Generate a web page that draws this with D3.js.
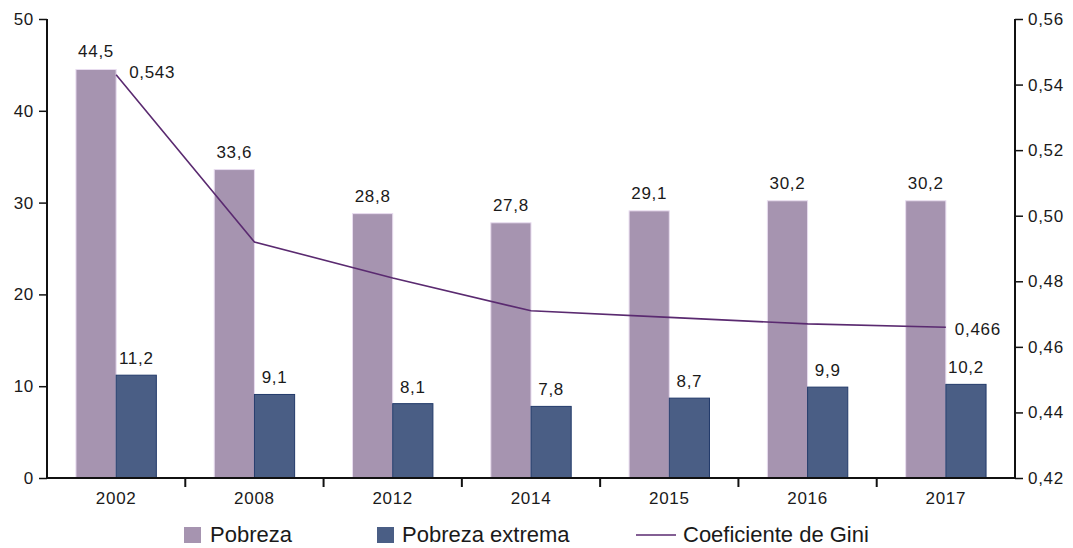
<!DOCTYPE html>
<html>
<head>
<meta charset="utf-8">
<script src="https://cdn.jsdelivr.net/npm/d3@7"></script>
<style>
body { margin: 0; background: #fff; }
text { font-family: "Liberation Sans", Arial, sans-serif; fill: #1a1a1a; }
</style>
</head>
<body>
<svg id="chart" width="1073" height="548"></svg>
<script>
let anios = ["2002", "2008", "2012", "2014", "2015", "2016", "2017"];
let pobreza = [44.5, 33.6, 28.8, 27.8, 29.1, 30.2, 30.2];
let pobreza_ext = [11.2, 9.1, 8.1, 7.8, 8.7, 9.9, 10.2];
let gini = [0.543, 0.492, 0.481, 0.471, 0.469, 0.467, 0.466];
let ticks_izq = [0, 10, 20, 30, 40, 50];
let ticks_der = [0.42, 0.44, 0.46, 0.48, 0.50, 0.52, 0.54, 0.56];

let svg = d3.select("#chart");
let mLeft = 47, mRight = 1015, mTop = 19, mBottom = 478;
let fmt = d => String(d).replace(".", ",");
let numStyle = sel => sel.style("font-size", "17px").style("letter-spacing", "0.7px");

let x = d3.scaleBand().domain(anios).range([mLeft, mRight]).paddingInner(0).paddingOuter(0);
let xSub = d3.scaleBand().domain(["p", "e"]).range([0, x.bandwidth()]).paddingOuter(0.72).paddingInner(0);
let y = d3.scaleLinear().domain([0, 50]).range([mBottom, mTop]);
let y2 = d3.scaleLinear().domain([0.42, 0.56]).range([mBottom, mTop]);

// barras
let grupos = svg.selectAll(".grupo")
    .data(anios)
    .enter().append("g")
    .attr("transform", d => "translate(" + x(d) + ",0)");

grupos.append("rect")
    .attr("x", xSub("p"))
    .attr("width", xSub.bandwidth())
    .attr("y", (d, i) => y(pobreza[i]))
    .attr("height", (d, i) => mBottom - y(pobreza[i]))
    .attr("fill", "#a694b0")
    .attr("stroke", "#e8dcef")
    .attr("stroke-width", 1);

grupos.append("rect")
    .attr("x", xSub("e"))
    .attr("width", xSub.bandwidth())
    .attr("y", (d, i) => y(pobreza_ext[i]))
    .attr("height", (d, i) => mBottom - y(pobreza_ext[i]))
    .attr("fill", "#4a5e85")
    .attr("stroke", "#223a6a")
    .attr("stroke-width", 1);

grupos.append("text")
    .attr("x", xSub("p") + xSub.bandwidth() / 2)
    .attr("y", (d, i) => y(pobreza[i]) - 12)
    .attr("text-anchor", "middle")
    .call(numStyle)
    .text((d, i) => fmt(pobreza[i]));

grupos.append("text")
    .attr("x", xSub("e") + xSub.bandwidth() / 2)
    .attr("y", (d, i) => y(pobreza_ext[i]) - 11)
    .attr("text-anchor", "middle")
    .call(numStyle)
    .text((d, i) => fmt(pobreza_ext[i]));

// linea gini
let line = d3.line()
    .x((d, i) => x(anios[i]) + x.bandwidth() / 2)
    .y(d => y2(d));

svg.append("path")
    .datum(gini)
    .attr("d", line)
    .attr("fill", "none")
    .attr("stroke", "#5a2a70")
    .attr("stroke-width", 1.6);

let last = gini.length - 1;
svg.append("text")
    .attr("x", x(anios[0]) + x.bandwidth() / 2 + 13)
    .attr("y", y2(gini[0]) + 3)
    .call(numStyle)
    .text(fmt(gini[0]));
svg.append("text")
    .attr("x", x(anios[last]) + x.bandwidth() / 2 + 9)
    .attr("y", y2(gini[last]) + 8)
    .call(numStyle)
    .text(fmt(gini[last]));

// ejes
let ejeIzq = svg.append("g")
    .attr("transform", "translate(" + mLeft + ",0)")
    .call(d3.axisLeft(y).tickValues(ticks_izq).tickSize(8).tickPadding(5));
let ejeDer = svg.append("g")
    .attr("transform", "translate(" + mRight + ",0)")
    .call(d3.axisRight(y2).tickValues(ticks_der).tickSize(8).tickPadding(5).tickFormat(d => d3.format(".2f")(d).replace(".", ",")));
let ejeX = svg.append("g")
    .attr("transform", "translate(0," + mBottom + ")")
    .call(d3.axisBottom(x).tickSize(0).tickPadding(14));

// marcas entre categorias
svg.selectAll(".sep")
    .data(anios.slice(1))
    .enter().append("line")
    .attr("x1", d => x(d)).attr("x2", d => x(d))
    .attr("y1", mBottom).attr("y2", mBottom + 9)
    .attr("stroke", "#111").attr("stroke-width", 2);

[ejeIzq, ejeDer, ejeX].forEach(g => {
    g.select(".domain").attr("stroke", "#111").attr("stroke-width", 2);
    g.selectAll(".tick line").attr("stroke", "#111").attr("stroke-width", 1.5);
    g.selectAll("text").call(numStyle).attr("fill", "#1a1a1a")
        .style("font-family", "'Liberation Sans', Arial, sans-serif");
});
ejeIzq.select(".domain").attr("d", "M0," + mTop + "V" + mBottom);
ejeDer.select(".domain").attr("d", "M0," + mTop + "V" + mBottom);
ejeX.select(".domain").attr("d", "M" + mLeft + ",0H" + mRight);

// leyenda
let leyenda = svg.append("g").attr("transform", "translate(0,542)");
leyenda.append("rect").attr("x", 184).attr("y", -15).attr("width", 17).attr("height", 16).attr("fill", "#a694b0");
leyenda.append("text").attr("x", 210).attr("y", 0).style("font-size", "22px").text("Pobreza");
leyenda.append("rect").attr("x", 377).attr("y", -15).attr("width", 17).attr("height", 16).attr("fill", "#4a5e85");
leyenda.append("text").attr("x", 402).attr("y", 0).style("font-size", "22px").text("Pobreza extrema");
leyenda.append("line").attr("x1", 636).attr("x2", 676).attr("y1", -7).attr("y2", -7).attr("stroke", "#5a2a70").attr("stroke-width", 1.6);
leyenda.append("text").attr("x", 683).attr("y", 0).style("font-size", "22px").text("Coeficiente de Gini");
</script>
</body>
</html>
